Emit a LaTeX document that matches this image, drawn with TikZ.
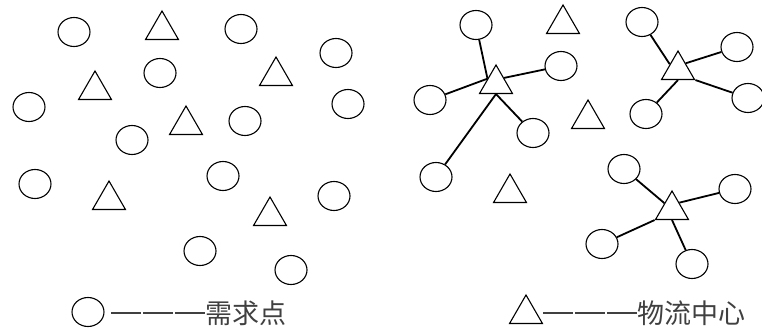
\documentclass[tikz,border=0pt]{standalone}
\usepackage{fontspec}
\newfontfamily\cjk{Noto Sans CJK SC}
\usetikzlibrary{shapes.geometric}
\tikzstyle{demand} = [ellipse, minimum width=32pt, minimum height=29pt, inner sep=0pt, draw=black, line width=1.1pt]
\tikzstyle{depot} = [regular polygon, regular polygon sides=3, minimum size=38pt, inner sep=0pt, draw=black, fill=white, line width=1.1pt]
\tikzstyle{link} = [line width=1.8pt]
\tikzstyle{legend} = [anchor=west, inner sep=0pt, font=\cjk\fontsize{27}{27}\selectfont, text=black!75]
\newcommand{\legdash}{\rule[9.5pt]{30pt}{1.3pt}\hspace{2pt}\rule[9.5pt]{30pt}{1.3pt}\hspace{2pt}\rule[9.5pt]{30pt}{1.3pt}}

\begin{document}
\begin{tikzpicture}[x=1pt, y=-1pt]
	\useasboundingbox (0,0) rectangle (762,331);
	\node (l1) [demand] at (74,32) {};
	\node (l2) [demand] at (241,29) {};
	\node (l3) [demand] at (336,53) {};
	\node (l4) [demand] at (160,73) {};
	\node (l5) [demand] at (29,107) {};
	\node (l6) [demand] at (348,104) {};
	\node (l7) [demand] at (132,140) {};
	\node (l8) [demand] at (245,121) {};
	\node (l9) [demand] at (35,184) {};
	\node (l10) [demand] at (223,176) {};
	\node (l11) [demand] at (334,196) {};
	\node (l12) [demand] at (200,251) {};
	\node (l13) [demand] at (291,270) {};
	\node (lc1) [depot] at (162,30) {};
	\node (lc2) [depot] at (95,90) {};
	\node (lc3) [depot] at (276,76) {};
	\node (lc4) [depot] at (186,125) {};
	\node (lc5) [depot] at (109,200) {};
	\node (lc6) [depot] at (270,216) {};
	\node (r1) [demand] at (476,25) {};
	\node (r2) [demand] at (561,66) {};
	\node (r3) [demand] at (430,100) {};
	\node (r4) [demand] at (533,133) {};
	\node (r5) [demand] at (436,177) {};
	\node (r6) [demand] at (642,22) {};
	\node (r7) [demand] at (737,47) {};
	\node (r8) [demand] at (748,98) {};
	\node (r9) [demand] at (646,114) {};
	\node (r10) [demand] at (624,169) {};
	\node (r11) [demand] at (735,189) {};
	\node (r12) [demand] at (602,244) {};
	\node (r13) [demand] at (692,264) {};
	\node (hubA) [depot] at (496,84) {};
	\node (rc2) [depot] at (563,24) {};
	\node (rc3) [depot] at (588,119) {};
	\node (rc4) [depot] at (510,193) {};
	\node (hubB) [depot] at (678,70) {};
	\node (hubC) [depot] at (672,210) {};
	\draw [link] (r1) -- (hubA.148);
	\draw [link] (r3) -- (hubA.148);
	\draw [link] (r2) -- (hubA.37);
	\draw [link] (r4) -- (hubA.south);
	\draw [link] (r5) -- (hubA.south);
	\draw [link] (r6) -- (hubB.145);
	\draw [link] (r7) -- (hubB.41);
	\draw [link] (r8) -- (hubB.corner 3);
	\draw [link] (r9) -- (hubB.south);
	\draw [link] (r10) -- (hubC.138);
	\draw [link] (r11) -- (hubC.45);
	\draw [link] (r12) -- (hubC.corner 2);
	\draw [link] (r13) -- (hubC.south);
	\node (legd) [demand] at (88,312) {};
	\node (legdtext) [legend] at (111,313) {\legdash{}需求点};
	\node (legc) [depot] at (526,314) {};
	\node (legctext) [legend] at (543,313) {\legdash{}物流中心};
\end{tikzpicture}
\end{document}
